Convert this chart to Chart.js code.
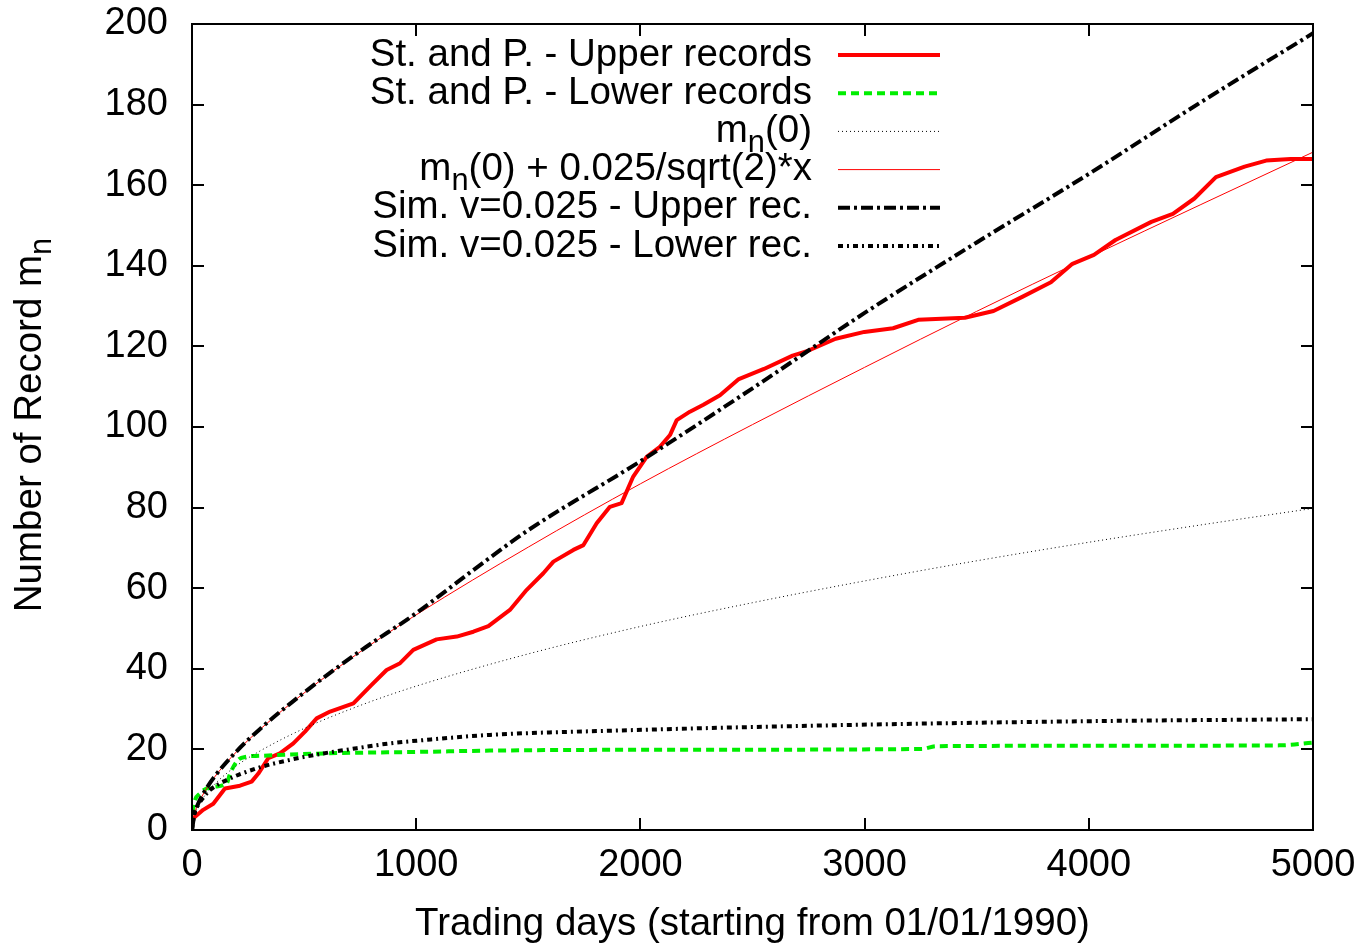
<!DOCTYPE html>
<html><head><meta charset="utf-8">
<script src="https://cdn.jsdelivr.net/npm/chart.js@4.4.1/dist/chart.umd.min.js"></script>
<style>html,body{margin:0;padding:0;background:#fff;overflow:hidden}canvas{display:block}</style>
</head><body>
<canvas id="c" width="1365" height="947"></canvas>
<script>
// ---- data ----
const xTickValues = [0, 1000, 2000, 3000, 4000, 5000];
const yTickValues = [0, 20, 40, 60, 80, 100, 120, 140, 160, 180, 200];

const upperDays = [0, 6, 50, 95, 147, 214, 266, 296, 340, 392, 452, 504, 556, 616, 720, 801, 868, 928, 987, 1091, 1181, 1255, 1322, 1418, 1493, 1567, 1612, 1701, 1746, 1805, 1864, 1916, 1968, 2028, 2087, 2132, 2162, 2221, 2281, 2355, 2439, 2551, 2679, 2743, 2871, 2999, 3127, 3239, 3447, 3575, 3703, 3831, 3927, 4023, 4119, 4279, 4375, 4471, 4567, 4631, 4695, 4791, 4900, 5000];
const upperRecords = [1, 2.9, 5, 6.5, 10.3, 11, 12, 14, 17.8, 19, 21.5, 24.4, 27.7, 29.4, 31.4, 36, 39.7, 41.4, 44.7, 47.3, 48, 49.2, 50.6, 54.6, 59.6, 63.7, 66.6, 69.5, 70.7, 76.1, 80.2, 81.1, 87.7, 92.6, 95.1, 98, 101.7, 103.8, 105.5, 107.9, 111.9, 114.4, 117.7, 118.8, 121.9, 123.6, 124.5, 126.6, 127.1, 128.8, 132.3, 135.9, 140.5, 142.7, 146.4, 150.9, 152.9, 156.7, 162, 163.3, 164.6, 166.1, 166.5, 166.5];

const lowerDays = [0, 6, 36, 95, 155, 170, 206, 244, 300, 586, 1032, 1329, 2000, 3255, 3318, 4000, 4850, 5000];
const lowerRecords = [1, 5.4, 9.1, 10.7, 11.6, 14, 17.4, 18.2, 18.4, 19, 19.4, 19.7, 19.9, 20.1, 20.8, 20.9, 21, 21.7];

const theoryDays = [0, 10, 25, 50, 100, 200, 300, 500, 750, 1000, 1500, 2000, 2500, 3000, 3500, 4000, 4500, 5000];
const theoryValues = [1, 3.6, 5.6, 8.0, 11.3, 16.0, 19.5, 25.2, 30.9, 35.7, 43.7, 50.5, 56.4, 61.8, 66.8, 71.4, 75.7, 79.8];
const driftValues = [1, 3.8, 6.2, 8.9, 13.1, 19.5, 24.8, 34.0, 44.2, 53.4, 70.2, 85.9, 100.6, 114.8, 128.7, 142.1, 155.2, 168.2];

const simUpperDays = [0, 10, 25, 50, 100, 200, 300, 500, 750, 1000, 1250, 1500, 2000, 2500, 3000, 3500, 4000, 4500, 5000];
const simUpperValues = [0, 3.6, 6.2, 9.0, 13.2, 19.6, 24.9, 34.1, 44.4, 53.8, 64.3, 74.4, 91.5, 109.6, 128.3, 145.8, 162.8, 180.6, 197.7];

const simLowerDays = [0, 10, 25, 50, 80, 140, 288, 437, 586, 735, 883, 1032, 1329, 1910, 2871, 4000, 5000];
const simLowerValues = [0, 4, 6, 8, 9.9, 12, 15.3, 17.4, 19, 20.3, 21.5, 22.3, 23.6, 24.7, 26, 27, 27.5];

const seriesLabels = [
  'St. and P. - Upper records',
  'St. and P. - Lower records',
  'm_n(0)',
  'm_n(0) + 0.025/sqrt(2)*x',
  'Sim. v=0.025 - Upper rec.',
  'Sim. v=0.025 - Lower rec.'
];
const xTitle = 'Trading days (starting from 01/01/1990)';
const yTitle = 'Number of Record m_n';

// ---- helpers ----
const FONT = '"Liberation Sans", Arial, Helvetica, sans-serif';
const zip = (xs, ys) => xs.map((x, i) => ({x: x, y: ys[i]}));

function richParts(text) {
  const parts = [];
  const re = /_(\w)/g;
  let last = 0, m;
  while ((m = re.exec(text)) !== null) {
    if (m.index > last) parts.push({t: text.slice(last, m.index), sub: false});
    parts.push({t: m[1], sub: true});
    last = re.lastIndex;
  }
  if (last < text.length) parts.push({t: text.slice(last), sub: false});
  return parts;
}
function richWidth(ctx, parts, size) {
  let w = 0;
  for (const p of parts) {
    ctx.font = (p.sub ? size * 0.8 : size) + 'px ' + FONT;
    w += ctx.measureText(p.t).width;
  }
  return w;
}
function drawRich(ctx, text, x, y, size, align) {
  const parts = richParts(text);
  const w = richWidth(ctx, parts, size);
  let cx = align === 'right' ? x - w : (align === 'center' ? x - w / 2 : x);
  ctx.textBaseline = 'middle';
  ctx.textAlign = 'left';
  ctx.fillStyle = '#000';
  for (const p of parts) {
    const s = p.sub ? size * 0.8 : size;
    ctx.font = s + 'px ' + FONT;
    ctx.fillText(p.t, cx, y + (p.sub ? size * 0.32 : 0));
    cx += ctx.measureText(p.t).width;
  }
}

const LEG = {textRight: 812, lineStart: 838, lineEnd: 940, firstY: 55, step: 38.2, size: 38.5};

const framePlugin = {
  id: 'frame',
  afterDatasetsDraw(chart) {
    const {ctx, chartArea: a, scales} = chart;
    ctx.save();
    ctx.strokeStyle = '#000';
    ctx.lineWidth = 2;
    ctx.setLineDash([]);
    const tl = 12;
    ctx.beginPath();
    for (const v of xTickValues) {
      const px = Math.round(scales.x.getPixelForValue(v));
      ctx.moveTo(px, a.bottom); ctx.lineTo(px, a.bottom - tl);
      ctx.moveTo(px, a.top); ctx.lineTo(px, a.top + tl);
    }
    for (const v of yTickValues) {
      const py = Math.round(scales.y.getPixelForValue(v));
      ctx.moveTo(a.left, py); ctx.lineTo(a.left + tl, py);
      ctx.moveTo(a.right, py); ctx.lineTo(a.right - tl, py);
    }
    ctx.stroke();
    ctx.strokeRect(a.left, a.top, a.right - a.left, a.bottom - a.top);

    // legend (gnuplot-style key)
    chart.data.datasets.forEach((ds, i) => {
      const y = LEG.firstY + i * LEG.step;
      drawRich(ctx, ds.label, LEG.textRight, y, LEG.size, 'right');
      ctx.beginPath();
      ctx.strokeStyle = ds.borderColor;
      ctx.lineWidth = ds.borderWidth;
      ctx.setLineDash(ds.borderDash || []);
      ctx.moveTo(LEG.lineStart, y);
      ctx.lineTo(LEG.lineEnd, y);
      ctx.stroke();
    });
    ctx.setLineDash([]);

    // y-axis title with subscript
    ctx.translate(30, 425);
    ctx.rotate(-Math.PI / 2);
    drawRich(ctx, yTitle, 0, 0, 38.5, 'center');
    ctx.restore();
  }
};

const datasets = [
  {label: seriesLabels[0], data: zip(upperDays, upperRecords), borderColor: '#ff0000', borderWidth: 4, borderDash: [], order: 5, tension: 0},
  {label: seriesLabels[1], data: zip(lowerDays, lowerRecords), borderColor: '#00ee00', borderWidth: 4, borderDash: [8, 5], order: 4, cubicInterpolationMode: 'monotone'},
  {label: seriesLabels[2], data: zip(theoryDays, theoryValues), borderColor: '#000000', borderWidth: 1, borderDash: [1, 3], order: 3, cubicInterpolationMode: 'monotone'},
  {label: seriesLabels[3], data: zip(theoryDays, driftValues), borderColor: '#ff0000', borderWidth: 1, borderDash: [], order: 2, cubicInterpolationMode: 'monotone'},
  {label: seriesLabels[4], data: zip(simUpperDays, simUpperValues), borderColor: '#000000', borderWidth: 4, borderDash: [12, 4, 3, 4], order: 1, cubicInterpolationMode: 'monotone'},
  {label: seriesLabels[5], data: zip(simLowerDays, simLowerValues), borderColor: '#000000', borderWidth: 4, borderDash: [5, 4, 2, 4], order: 0, cubicInterpolationMode: 'monotone'}
].map(d => Object.assign({pointRadius: 0, pointHoverRadius: 0, fill: false, borderCapStyle: 'butt', borderJoinStyle: 'round'}, d));

new Chart(document.getElementById('c'), {
  type: 'line',
  data: {datasets: datasets},
  options: {
    responsive: false,
    animation: false,
    devicePixelRatio: 1,
    layout: {padding: {top: 24, right: 52, left: 0, bottom: 0}},
    plugins: {legend: {display: false}, tooltip: {enabled: false}},
    scales: {
      x: {
        type: 'linear', min: 0, max: 5000,
        afterFit(s) { s.height = 117; s.paddingLeft = 0; s.paddingRight = 0; },
        afterBuildTicks(s) { s.ticks = xTickValues.map(v => ({value: v})); },
        grid: {display: false, drawTicks: false},
        border: {display: false},
        ticks: {color: '#000', padding: 13, maxRotation: 0, font: {family: FONT, size: 38, lineHeight: 1.2}, callback: v => String(v)},
        title: {display: true, text: xTitle, color: '#000', padding: {top: 0, bottom: 0}, font: {family: FONT, size: 38.5, lineHeight: 1.2}}
      },
      y: {
        type: 'linear', min: 0, max: 200,
        afterFit(s) { s.width = 192; s.paddingTop = 0; s.paddingBottom = 0; },
        afterBuildTicks(s) { s.ticks = yTickValues.map(v => ({value: v})); },
        grid: {display: false, drawTicks: false},
        border: {display: false},
        ticks: {color: '#000', padding: 24, font: {family: FONT, size: 38, lineHeight: 1.2}, callback: v => String(v)}
      }
    }
  },
  plugins: [framePlugin]
});
</script>
</body></html>
